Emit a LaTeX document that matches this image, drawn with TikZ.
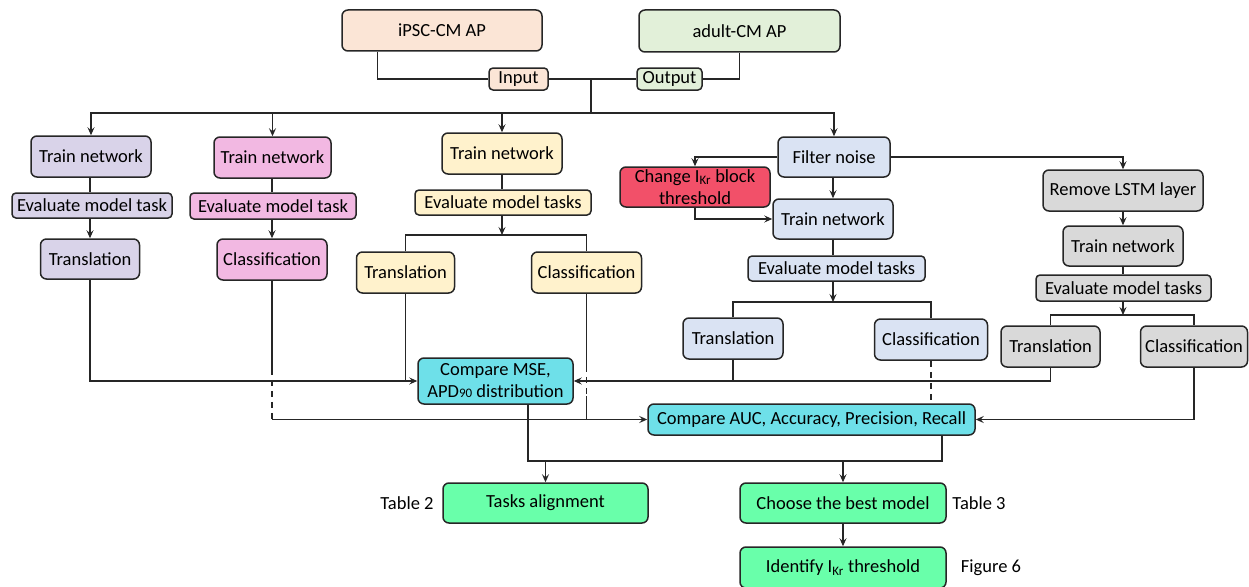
\documentclass[tikz,border=0pt]{standalone}
\usepackage{fontspec}
\setmainfont{Carlito}
\usetikzlibrary{arrows.meta,calc}
\definecolor{cpeach}{HTML}{FBE5D6}
\definecolor{clgreen}{HTML}{E2F0D9}
\definecolor{clav}{HTML}{D9D3E9}
\definecolor{cpink}{HTML}{F2B8E2}
\definecolor{cyel}{HTML}{FFF2CC}
\definecolor{cblue}{HTML}{DAE3F3}
\definecolor{cred}{HTML}{F25069}
\definecolor{cgray}{HTML}{D9D9D9}
\definecolor{ccyan}{HTML}{6EE0E9}
\definecolor{cgreen}{HTML}{69FFAA}
\tikzset{
  box/.style={draw=black!85, line width=1.5pt, rounded corners=6pt, inner sep=0pt, align=center,
    font=\fontsize{18.5}{22}\selectfont},
  smallbox/.style={box, rounded corners=4pt},
  lbl/.style={inner sep=0pt, font=\fontsize{18.5}{22}\selectfont},
  conn/.style={line width=1.5pt, draw=black!85},
  arr/.style={conn, -{Stealth[length=8pt,width=7pt,inset=3pt]}},
  dsh/.style={conn, dash pattern=on 6pt off 5pt},
}
\newcommand{\Ikr}{I\textsubscript{Kr}}
\begin{document}
\begin{tikzpicture}[x=1pt,y=-1pt]
\useasboundingbox (0,0) rectangle (1249,586);
% top
\node[box, fill=cpeach, minimum width=200, minimum height=41] (ipsc) at (442,30.5) {iPSC-CM AP};
\node[box, fill=clgreen, minimum width=201, minimum height=42] (adult) at (739.5,31) {adult-CM AP};
\node[smallbox, fill=cpeach, minimum width=59, minimum height=22] (input) at (518.5,79) {Input};
\node[smallbox, fill=clgreen, minimum width=65, minimum height=22] (output) at (669.5,79) {Output};
% column 1
\node[box, fill=clav, minimum width=120, minimum height=41] (tn1) at (91,156.5) {Train network};
\node[smallbox, fill=clav, minimum width=160, minimum height=25] (ev1) at (92,205.5) {Evaluate model task};
\node[box, fill=clav, minimum width=99, minimum height=40] (tr1) at (90,259) {Translation};
% column 2
\node[box, fill=cpink, minimum width=117, minimum height=41] (tn2) at (272.5,157.5) {Train network};
\node[smallbox, fill=cpink, minimum width=166, minimum height=26] (ev2) at (273,206) {Evaluate model task};
\node[box, fill=cpink, minimum width=110, minimum height=41] (cl2) at (272,259.5) {Classification};
% column 3
\node[box, fill=cyel, minimum width=120, minimum height=41] (tn3) at (502,153.5) {Train network};
\node[smallbox, fill=cyel, minimum width=176, minimum height=25] (ev3) at (503,202.5) {Evaluate model tasks};
\node[box, fill=cyel, minimum width=98, minimum height=41] (tr3) at (405.5,272.5) {Translation};
\node[box, fill=cyel, minimum width=110, minimum height=41] (cl3) at (586.5,272.5) {Classification};
% filter column
\node[box, fill=cblue, minimum width=112, minimum height=40] (fn) at (834,157) {Filter noise};
\node[box, fill=cred, minimum width=150, minimum height=40] (chg) at (695,187) {Change \Ikr{} block\\threshold};
\node[box, fill=cblue, minimum width=120, minimum height=40] (tn4) at (833,219) {Train network};
\node[smallbox, fill=cblue, minimum width=177, minimum height=25] (ev4) at (836.5,268.5) {Evaluate model tasks};
\node[box, fill=cblue, minimum width=100, minimum height=41] (tr4) at (733,338.5) {Translation};
\node[box, fill=cblue, minimum width=113, minimum height=41] (cl4) at (931,339.5) {Classification};
% gray column
\node[box, fill=cgray, minimum width=160, minimum height=41] (rm) at (1123,190.5) {Remove LSTM layer};
\node[box, fill=cgray, minimum width=120, minimum height=40] (tn5) at (1123,246) {Train network};
\node[smallbox, fill=cgray, minimum width=175, minimum height=26] (ev5) at (1123.5,288) {Evaluate model tasks};
\node[box, fill=cgray, minimum width=99, minimum height=41] (tr5) at (1050.5,346.5) {Translation};
\node[box, fill=cgray, minimum width=107, minimum height=41] (cl5) at (1194,346.5) {Classification};
% compare
\node[box, fill=ccyan, minimum width=155, minimum height=46] (mse) at (495.5,381) {Compare MSE,\\APD{\fontsize{13}{13}\selectfont 90} distribution};
\node[box, fill=ccyan, minimum width=327, minimum height=31] (auc) at (811.5,419.5) {Compare AUC, Accuracy, Precision, Recall};
% bottom
\node[box, fill=cgreen, minimum width=205, minimum height=40] (ta) at (545.5,503) {Tasks alignment};
\node[box, fill=cgreen, minimum width=206, minimum height=40] (best) at (843,503) {Choose the best model};
\node[box, fill=cgreen, minimum width=206, minimum height=41] (idk) at (843,567.5) {Identify \Ikr{} threshold};
\node[lbl] (t2) at (407,503) {Table 2};
\node[lbl] (t3) at (979,503) {Table 3};
\node[lbl] (f6) at (991,568) {Figure 6};
% coordinates
\coordinate (bus) at (591,113);
\coordinate (br3) at (502,235);
\coordinate (br4) at (833,302);
\coordinate (br5) at (1123,315);
\coordinate (bot) at (546,461);
% top connectors
\draw[conn] ($(ipsc.south west)+(36,0)$) |- (input.west);
\draw[conn] (input.east) -- (output.west);
\draw[conn] (adult.south) |- (output.east);
\draw[conn] (input.east -| bus) -- (bus);
\draw[arr] (bus) -| (tn1.north);
\draw[arr] (bus) -| (tn2.north);
\draw[arr] (bus) -| (tn3.north);
\draw[arr] (bus) -| (fn.north);
% column 1
\draw[conn] (tn1.south -| tr1.north) -- (ev1.north -| tr1.north);
\draw[arr] (ev1.south -| tr1.north) -- (tr1.north);
\draw[arr] (tr1.south) |- (mse.west);
% column 2
\draw[conn] (tn2.south -| cl2.north) -- (ev2.north -| cl2.north);
\draw[arr] (ev2.south -| cl2.north) -- (cl2.north);
\draw[conn] (cl2.south) -- ($(cl2.south)+(0,88)$);
\draw[dsh] ($(cl2.south)+(0,88)$) -- (cl2.south |- auc.west);
\draw[arr] (cl2.south |- auc.west) -- (auc.west);
% column 3
\draw[conn] (tn3.south) -- (tn3.south |- ev3.north);
\draw[arr] (ev3.south -| br3) -- (br3);
\draw[conn] (tr3.north) |- (br3) -| (cl3.north);
\draw[conn] (tr3.south) -- (tr3.south |- mse.west);
\draw[conn] (cl3.south) -- ($(cl3.south)+(0,72)$);
\draw[dsh] ($(cl3.south)+(0,72)$) -- ($(cl3.south)+(0,102)$);
\draw[conn] ($(cl3.south)+(0,102)$) -- (cl3.south |- auc.west);
% filter column
\draw[arr] (fn.west) -| (chg.north);
\draw[arr] (chg.south) |- (tn4.west);
\draw[arr] (fn.south -| tn4.north) -- (tn4.north);
\draw[conn] (tn4.south) -- (tn4.south |- ev4.north);
\draw[arr] (ev4.south -| br4) -- (br4);
\draw[conn] (tr4.north) |- (br4) -| (cl4.north);
\draw[conn] (tr4.south) -- (tr4.south |- mse.east);
\draw[dsh] (cl4.south) -- (cl4.south |- auc.north);
% gray column
\draw[arr] (fn.east) -| (rm.north);
\draw[arr] (rm.south) -- (tn5.north);
\draw[conn] (tn5.south) -- (ev5.north -| tn5.south);
\draw[arr] (ev5.south -| br5) -- (br5);
\draw[conn] (tr5.north) |- (br5) -| (cl5.north);
\draw[arr] (tr5.south) |- (mse.east);
\draw[arr] (cl5.south) |- (auc.east);
% bottom
\draw[conn] ($(mse.south)+(32.5,0)$) |- (bot) -| ($(auc.south)+(130.5,0)$);
\draw[arr] (ta.north |- bot) -- (ta.north);
\draw[arr] (best.north |- bot) -- (best.north);
\draw[arr] (best.south) -- (idk.north);
\end{tikzpicture}
\end{document}
